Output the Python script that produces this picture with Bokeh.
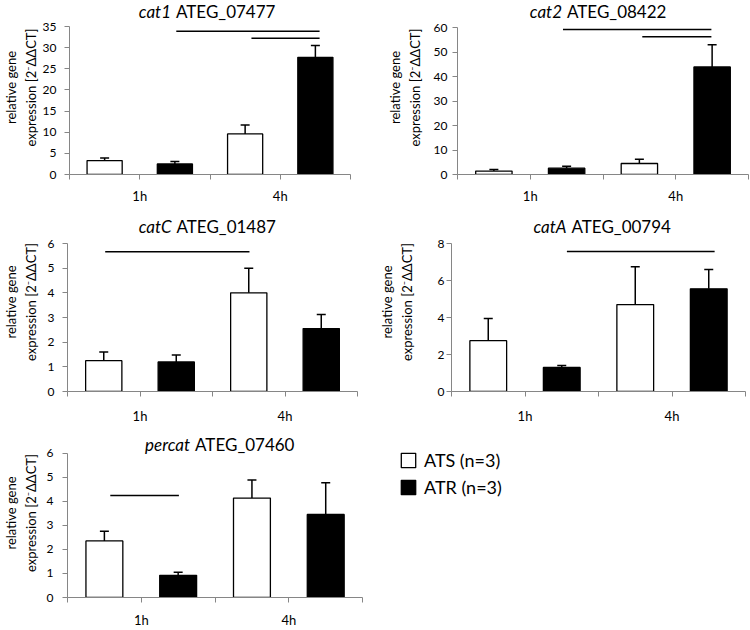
from bokeh.plotting import figure
from bokeh.layouts import column, row
from bokeh.models import (Range1d, FixedTicker, SingleIntervalTicker, Label, Legend,
                          LegendItem, ColumnDataSource, Whisker, TeeHead)
from bokeh.embed import file_html
from bokeh.resources import INLINE

FONT = "Lato"

times = ["1h", "4h"]
groups = ["ATS (n=3)", "ATR (n=3)"]
fill_colors = ["white", "black"]

genes = ["cat1", "cat2", "catC", "catA", "percat"]
gene_ids = ["ATEG_07477", "ATEG_08422", "ATEG_01487", "ATEG_00794", "ATEG_07460"]

# order: ATS 1h, ATR 1h, ATS 4h, ATR 4h
cat1_mean = [3.3, 2.5, 9.6, 27.7]
cat1_err = [0.6, 0.6, 2.1, 2.8]
cat2_mean = [1.4, 2.6, 4.5, 43.9]
cat2_err = [0.6, 0.8, 1.7, 9.1]
catC_mean = [1.25, 1.2, 4.0, 2.55]
catC_err = [0.35, 0.28, 1.0, 0.57]
catA_mean = [2.75, 1.3, 4.7, 5.55]
catA_err = [1.2, 0.1, 2.05, 1.05]
percat_mean = [2.35, 0.92, 4.13, 3.45]
percat_err = [0.4, 0.13, 0.75, 1.32]

y_max = [35, 60, 6, 8, 6]
y_step = [5, 10, 1, 2, 1]

# significance bars (x in bar-slot units, y in data units)
cat1_sig_x0 = [1.52, 2.59]
cat1_sig_x1 = [3.56, 3.56]
cat1_sig_y = [33.9, 32.2]
cat2_sig_x0 = [1.45, 2.54]
cat2_sig_x1 = [3.49, 3.49]
cat2_sig_y = [59.2, 56.2]
catC_sig_x0 = [0.52]
catC_sig_x1 = [2.51]
catC_sig_y = [5.67]
catA_sig_x0 = [1.57]
catA_sig_x1 = [3.58]
catA_sig_y = [7.57]
percat_sig_x0 = [0.58]
percat_sig_x1 = [1.51]
percat_sig_y = [4.24]

AX = "#868686"
N_SLOTS = len(times) * len(groups)


def make_panel(idx, means, errs, sx0, sx1, sy, width, height, bl, br, bb,
               axis_top_px, axis_h_px, axis_w_px, title_dx, title_dy, xlab_standoff,
               ytick_standoff, ylab_standoff):
    # frame extends above the axis top so the panel title can sit inside it
    y_end = y_max[idx] * (axis_h_px + axis_top_px) / axis_h_px
    frame_w = width - bl - br
    x_end = N_SLOTS * frame_w / axis_w_px
    p = figure(width=width, height=height, x_range=Range1d(0, x_end),
               y_range=Range1d(0, y_end), output_backend="svg",
               toolbar_location=None, min_border_left=bl, min_border_right=br,
               min_border_top=0, min_border_bottom=bb)
    p.outline_line_color = None
    p.grid.visible = False
    p.background_fill_color = "white"

    xs = [2 * i + j + 0.5 for i in range(len(times)) for j in range(len(groups))]
    fills = [fill_colors[j] for i in range(len(times)) for j in range(len(groups))]
    src = ColumnDataSource(dict(x=xs, top=means,
                                upper=[m + e for m, e in zip(means, errs)],
                                fill=fills))
    bars = p.vbar(x="x", top="top", width=0.5, fill_color="fill", line_color="black",
                  line_width=1.3, source=src)
    p.add_layout(Whisker(source=src, base="x", lower="top", upper="upper",
                         line_color="black", line_width=1.5, lower_head=None,
                         upper_head=TeeHead(size=9, line_color="black", line_width=1.5),
                         level="overlay"))
    p.segment(x0=sx0, y0=sy, x1=sx1, y1=sy, line_color="black", line_width=1.5)

    xa = p.xaxis[0]
    xa.bounds = (0, N_SLOTS)
    xa.ticker = FixedTicker(ticks=list(range(N_SLOTS + 1)))
    overrides = {k: "" for k in range(N_SLOTS + 1)}
    for i, t in enumerate(times):
        overrides[2 * i + 1] = t
    xa.major_label_overrides = overrides
    xa.major_label_standoff = xlab_standoff
    xa.major_label_text_font_size = "13px"

    ya = p.yaxis[0]
    ya.bounds = (0, y_max[idx])
    ya.ticker = SingleIntervalTicker(interval=y_step[idx], num_minor_ticks=0)
    ya.axis_label = "relative gene\nexpression [2\u207b\u0394\u0394CT]"
    ya.axis_label_text_font = FONT
    ya.axis_label_text_font_size = "13px"
    ya.axis_label_text_font_style = "normal"
    ya.axis_label_text_color = "black"
    ya.axis_label_standoff = ylab_standoff
    ya.major_label_standoff = ytick_standoff
    ya.major_label_text_font_size = "12px"

    for ax in (xa, ya):
        ax.axis_line_color = AX
        ax.axis_line_width = 1
        ax.major_tick_line_color = AX
        ax.minor_tick_line_color = None
        ax.major_tick_in = 0
        ax.major_tick_out = 5
        ax.major_label_text_font = FONT
        ax.major_label_text_color = "black"

    xc = N_SLOTS / 2
    p.add_layout(Label(x=xc, y=y_max[idx], x_offset=title_dx - 2, y_offset=title_dy,
                       text=genes[idx], text_align="right", text_baseline="alphabetic",
                       text_font=FONT, text_font_style="italic", text_font_size="17px",
                       text_color="black"))
    p.add_layout(Label(x=xc, y=y_max[idx], x_offset=title_dx + 3, y_offset=title_dy,
                       text=gene_ids[idx], text_align="left", text_baseline="alphabetic",
                       text_font=FONT, text_font_size="17px", text_color="black"))
    return p, bars


# row 1: height 212 ; row 2: height 216 ; row 3: height 202
f1, _ = make_panel(0, cat1_mean, cat1_err, cat1_sig_x0, cat1_sig_x1, cat1_sig_y,
                   375, 212, 60, 25, 38, 26, 148, 290, -37, 15, 8, 8, 1)
f2, _ = make_panel(1, cat2_mean, cat2_err, cat2_sig_x0, cat2_sig_x1, cat2_sig_y,
                   375, 212, 82, 2, 38, 27, 147, 291, -39, 16, 8, 5, 8)
f3, _ = make_panel(2, catC_mean, catC_err, catC_sig_x0, catC_sig_x1, catC_sig_y,
                   375, 216, 58, 18, 37, 31, 148, 299, -39, 17, 11, 8, 6)
f4, _ = make_panel(3, catA_mean, catA_err, catA_sig_x0, catA_sig_x1, catA_sig_y,
                   375, 216, 76, 5, 37, 31, 148, 294, -30, 17, 11, 2, 20)
# last panel's frame is widened to the right (axis bounded) to host the legend
f5, bars5 = make_panel(4, percat_mean, percat_err, percat_sig_x0, percat_sig_x1,
                       percat_sig_y, 750, 202, 58, 0, 30, 25, 147, 299, -23, 9, 9, 9, 5)

legend = Legend(items=[LegendItem(label=g, renderers=[bars5], index=j)
                       for j, g in enumerate(groups)],
                location=(332, 99), margin=0, padding=0, border_line_color=None,
                background_fill_alpha=0, glyph_width=18, glyph_height=18,
                label_height=18, label_standoff=7, spacing=5,
                label_text_font=FONT, label_text_font_size="18px",
                label_text_color="black")
f5.add_layout(legend, "center")

layout = column(row(f1, f2), row(f3, f4), f5)

with open("out.html", "w") as fh:
    fh.write(file_html(layout, INLINE))
